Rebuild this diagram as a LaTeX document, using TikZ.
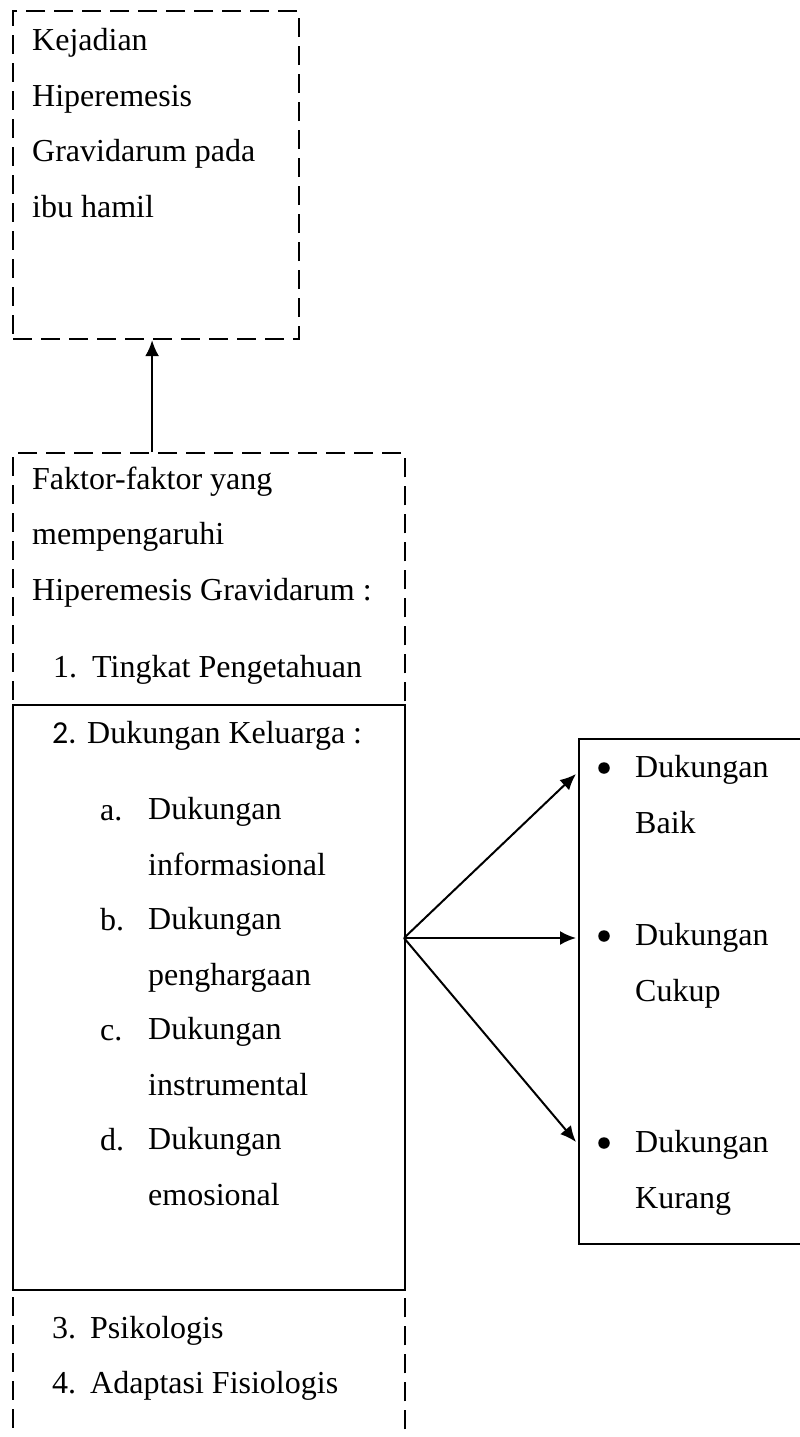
\documentclass[tikz,border=0pt]{standalone}
\usepackage{fontspec}
\setmainfont{Liberation Serif}
\newfontfamily\calibrifont{Carlito}
\usetikzlibrary{arrows.meta, positioning}

\begin{document}
\begin{tikzpicture}[
    x=1pt, y=-1pt,
    every node/.style={font=\fontsize{32pt}{55.5pt}\selectfont},
    dashbox/.style={draw, line width=2.2pt, dash pattern=on 19pt off 9pt, inner sep=0pt, anchor=north west},
    solidbox/.style={draw, line width=2.2pt, fill=white, inner sep=0pt, anchor=north west},
    txt/.style={anchor=base west, inner sep=0pt, align=left},
    dot/.style={circle, fill=black, inner sep=0pt, minimum size=11.5pt},
    arrow/.style={-{Latex[length=16pt,width=14pt]}, line width=2pt}
]
\useasboundingbox (0,0) rectangle (800,1437);
\clip (0,0) rectangle (800,1437);
% boxes
\node[dashbox, minimum width=286pt, minimum height=328pt] (kejadian) at (12,10) {};
\node[dashbox, minimum width=392pt, minimum height=1060pt, below right=112pt and 0pt of kejadian.south west] (faktor) {};
\node[solidbox, minimum width=392pt, minimum height=585pt, below right=252pt and 0pt of faktor.north west] (keluarga) {};
\node[solidbox, minimum width=260pt, minimum height=505pt, below right=34pt and 172pt of keluarga.north east] (hasil) {};
% texts (base = last line)
\node[txt] (kejadiantxt) at (32,217) {Kejadian\\Hiperemesis\\Gravidarum pada\\ibu hamil};
\node[txt] (faktortxt) at (32,600) {Faktor-faktor yang\\mempengaruhi\\Hiperemesis Gravidarum :};
\node[txt] (no1) at (53,677) {1.};
\node[txt] (tahu) at (92,677) {Tingkat Pengetahuan};
\node[txt] (no2) at (52,743) {\calibrifont 2.};
\node[txt] (kel) at (87,743) {Dukungan Keluarga :};
\foreach \l/\w [count=\i] in {a/informasional, b/penghargaan, c/instrumental, d/emosional} {
    \node[txt] (lbl\l) at (100,{820+110*(\i-1)}) {\l.};
    \node[txt] (item\l) at (148,{875+110*(\i-1)}) {Dukungan\\\w};
}
\node[txt] (no3) at (52,1338) {3.};
\node[txt] (psiko) at (90,1338) {Psikologis};
\node[txt] (no4) at (52,1393) {4.};
\node[txt] (fisio) at (90,1393) {Adaptasi Fisiologis};
\foreach \w/\y in {Baik/778, Cukup/946, Kurang/1153} {
    \node[dot] (bul\w) at (604,{\y-10}) {};
    \node[txt] (hasil\w) at (635,{\y+55}) {Dukungan\\\w};
}
% arrows
\coordinate (cabang) at (404,938);
\coordinate (keBaik) at (576,774);
\coordinate (keCukup) at (576,938);
\coordinate (keKurang) at (576,1142);
\draw[arrow] ([xshift=-4pt]kejadian.south |- faktor.north) -- ([xshift=-4pt]kejadian.south);
\draw[arrow] (cabang) -- (keBaik);
\draw[arrow] (cabang) -- (keCukup);
\draw[arrow] (cabang) -- (keKurang);
\end{tikzpicture}
\end{document}
